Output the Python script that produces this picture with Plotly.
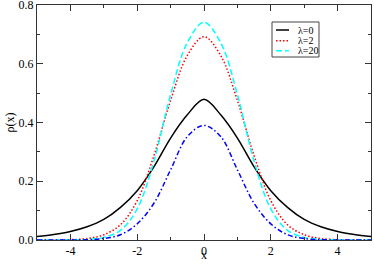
import plotly.graph_objects as go

# Data
x_vals = [-5.0, -4.5, -4.0, -3.5, -3.0, -2.5, -2.0, -1.5, -1.0, -0.5, 0.0,
          0.5, 1.0, 1.5, 2.0, 2.5, 3.0, 3.5, 4.0, 4.5, 5.0]
rho_lambda0 = [0.012, 0.019, 0.029, 0.045, 0.070, 0.111, 0.168, 0.249, 0.347, 0.426, 0.479,
               0.426, 0.347, 0.249, 0.168, 0.111, 0.070, 0.045, 0.029, 0.019, 0.012]
rho_lambda2 = [0.0, 0.0002, 0.0012, 0.005, 0.018, 0.052, 0.134, 0.287, 0.475, 0.628, 0.692,
               0.628, 0.475, 0.287, 0.134, 0.052, 0.018, 0.005, 0.0012, 0.0002, 0.0]
rho_lambda20 = [0.0, 0.0, 0.0003, 0.002, 0.009, 0.033, 0.106, 0.268, 0.495, 0.672, 0.741,
                0.672, 0.495, 0.268, 0.106, 0.033, 0.009, 0.002, 0.0003, 0.0, 0.0]
rho_other = [0.0, 0.0, 0.0002, 0.001, 0.005, 0.018, 0.055, 0.125, 0.239, 0.352, 0.390,
             0.352, 0.239, 0.125, 0.055, 0.018, 0.005, 0.001, 0.0002, 0.0, 0.0]

legend_names = ["λ=0", "λ=2", "λ=20"]
x_ticks = [-4, -2, 0, 2, 4]
y_ticks = [0.0, 0.2, 0.4, 0.6, 0.8]
x_title = "x"
y_title = "ρ(x)"

series = [
    (rho_lambda0, "#000000", "solid", legend_names[0]),
    (rho_lambda2, "#ff0000", "1.5px,2px", legend_names[1]),
    (rho_lambda20, "#00ffff", "6px,3px", legend_names[2]),
    (rho_other, "#0000ff", "5px,2.5px,1.5px,2.5px", None),
]

fig = go.Figure()
for ys, col, dash, name in series:
    fig.add_trace(go.Scatter(
        x=x_vals, y=ys, mode="lines",
        line=dict(color=col, width=1.5, dash=dash, shape="spline", smoothing=1.0),
        showlegend=False, hoverinfo="skip"))

font_family = "Liberation Serif, Times New Roman, serif"

axis_common = dict(
    showline=True, linecolor="#333333", linewidth=1, mirror="ticks",
    ticks="inside", ticklen=6, tickwidth=1, tickcolor="#333333",
    showgrid=False, zeroline=False, automargin=False, ticklabeloverflow="allow",
    tickfont=dict(family=font_family, size=12, color="#000000"),
)

fig.update_xaxes(range=[-5, 5], tickvals=x_ticks, ticktext=[str(v) for v in x_ticks],
                 minor=dict(ticks="inside", ticklen=3, dtick=1, tickcolor="#333333"),
                 **axis_common)
fig.update_yaxes(range=[0, 0.8], tickvals=y_ticks, ticktext=[f"{v:.1f}" for v in y_ticks],
                 minor=dict(ticks="inside", ticklen=3, dtick=0.1, tickcolor="#333333"),
                 **axis_common)

# Hand-built legend box (compact, as in the reference)
box_x0, box_x1, box_y0, box_y1 = 0.7036, 0.8443, 0.7787, 0.9277
entry_y = [0.8936, 0.8480, 0.8055]
sample_x0, sample_x1, text_x = 0.7156, 0.7545, 0.7754
shapes = [dict(type="rect", xref="paper", yref="paper", x0=box_x0, x1=box_x1,
               y0=box_y0, y1=box_y1, line=dict(color="#444444", width=1),
               fillcolor="white", layer="above")]
annotations = []
for (ys, col, dash, name), ey in zip(series[:3], entry_y):
    shapes.append(dict(type="line", xref="paper", yref="paper", x0=sample_x0, x1=sample_x1,
                       y0=ey, y1=ey, line=dict(color=col, width=1.5, dash=dash), layer="above"))
    annotations.append(dict(xref="paper", yref="paper", x=text_x, y=ey, text=name,
                            showarrow=False, xanchor="left", yanchor="middle",
                            font=dict(family=font_family, size=10, color="#000")))

# Axis titles
annotations.append(dict(xref="paper", yref="paper", x=0.5, y=-0.1021, text=x_title,
                        showarrow=False, xanchor="center", yanchor="bottom",
                        font=dict(family=font_family, size=12, color="#000")))
annotations.append(dict(xref="paper", yref="paper", x=-0.081, y=0.5, text=y_title,
                        showarrow=False, xanchor="center", yanchor="middle", textangle=-90,
                        font=dict(family=font_family, size=12, color="#000")))

fig.update_layout(
    width=374, height=264,
    margin=dict(l=37, r=3, t=5, b=24),
    paper_bgcolor="white", plot_bgcolor="white",
    shapes=shapes, annotations=annotations,
    showlegend=False,
)

fig.write_html("out.html", config={"displayModeBar": False},
               post_script="document.body.style.margin='0';document.body.style.overflow='hidden';")
